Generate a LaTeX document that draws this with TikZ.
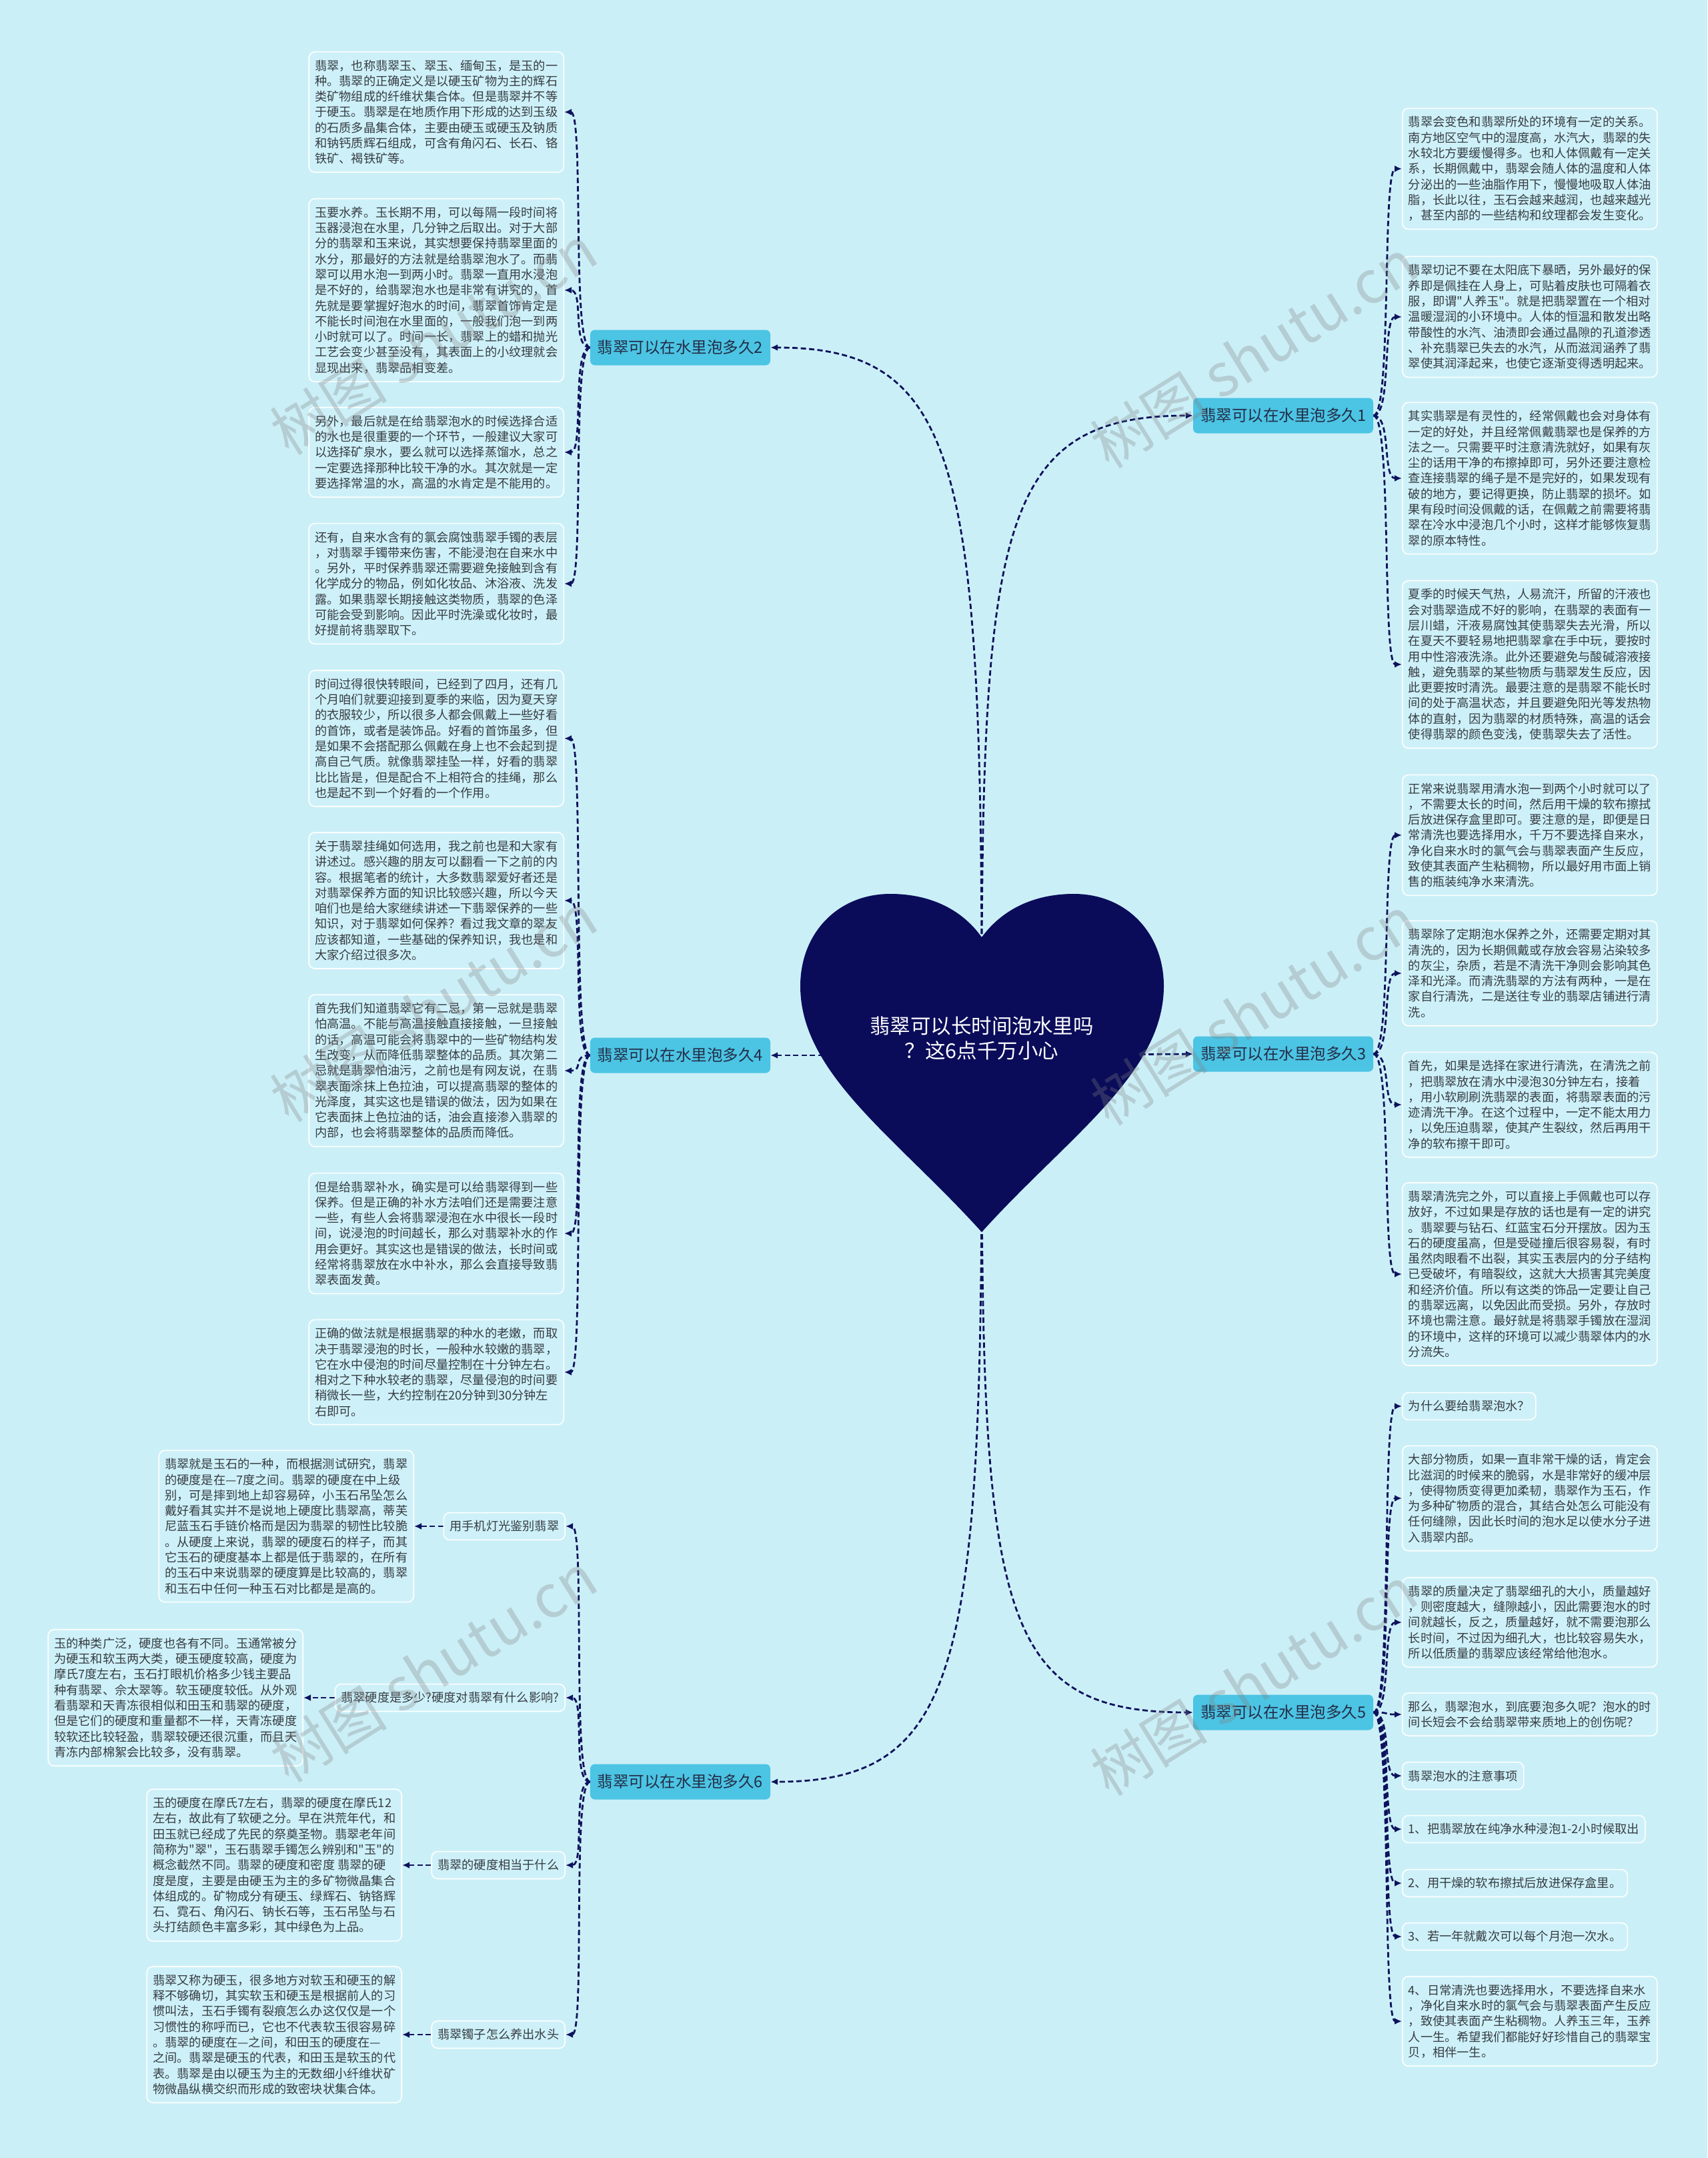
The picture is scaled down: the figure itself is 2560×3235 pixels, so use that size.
\documentclass[tikz,border=0pt]{standalone}
\usepackage{fontspec}
\setmainfont{Noto Sans CJK SC}[Ligatures=TeXOff]
\usetikzlibrary{arrows.meta}
\definecolor{bgc}{RGB}{203,239,247}
\definecolor{boxfill}{RGB}{206,241,249}
\definecolor{txtcol}{RGB}{55,60,66}
\definecolor{brfill}{RGB}{76,196,228}
\definecolor{brtext}{RGB}{35,45,70}
\definecolor{navy}{RGB}{14,18,92}
\definecolor{heartc}{RGB}{10,12,90}
\pgfdeclarelayer{bglayer}
\pgfdeclarelayer{lines}
\pgfsetlayers{bglayer,lines,main}
\tikzset{
  txt/.style={draw=white, line width=1.6pt, fill=boxfill, rounded corners=9pt, inner xsep=9pt, inner ysep=12pt, align=left, text=txtcol, font=\fontsize{18.2pt}{23.3pt}\selectfont},
  br/.style={fill=brfill, rounded corners=7pt, inner xsep=11pt, inner ysep=8pt, minimum width=270pt, minimum height=53pt, text=brtext, font=\fontsize{23.5pt}{28pt}\selectfont},
  conn/.style={draw=navy, line width=2.8pt, dash pattern=on 8pt off 4.5pt, -{Latex[length=11pt,width=10pt]}},
  wm/.style={text=gray, opacity=0.3, font=\fontsize{88pt}{88pt}\selectfont, rotate=32},
}
\begin{document}
\begin{tikzpicture}[x=1pt,y=-1pt]
\useasboundingbox (0,0) rectangle (2560,3235);
\begin{pgfonlayer}{bglayer}
\fill[bgc] (0,0) rectangle (2560,3235);
\end{pgfonlayer}

% heart
\coordinate (hup) at (1472,1500);
\coordinate (hmid) at (1472,1582);
\coordinate (hdn) at (1472,1700);
\fill[heartc] (1472,1405) .. controls (1505,1360) and (1555,1340) .. (1610,1340)
  .. controls (1690,1340) and (1745,1400) .. (1745,1478)
  .. controls (1745,1610) and (1600,1705) .. (1472,1847)
  .. controls (1344,1705) and (1200,1610) .. (1200,1478)
  .. controls (1200,1400) and (1255,1340) .. (1335,1340)
  .. controls (1390,1340) and (1440,1360) .. (1472,1405) -- cycle;
\node[text=white, align=center, font=\fontsize{30.5pt}{37pt}\selectfont] (root) at (1472,1556) {翡翠可以长时间泡水里吗\\？这6点千万小心};

% branches
\node[br] (n2) at (1020,521) {翡翠可以在水里泡多久2};
\node[br] (n1) at (1924,623) {翡翠可以在水里泡多久1};
\node[br] (n4) at (1020,1582) {翡翠可以在水里泡多久4};
\node[br] (n3) at (1924,1580) {翡翠可以在水里泡多久3};
\node[br] (n6) at (1020,2671) {翡翠可以在水里泡多久6};
\node[br] (n5) at (1924,2567) {翡翠可以在水里泡多久5};

% branch 2 children
\node[txt, anchor=east] (b2a) at (846,168) {翡翠，也称翡翠玉、翠玉、缅甸玉，是玉的一\\种。翡翠的正确定义是以硬玉矿物为主的辉石\\类矿物组成的纤维状集合体。但是翡翠并不等\\于硬玉。翡翠是在地质作用下形成的达到玉级\\的石质多晶集合体，主要由硬玉或硬玉及钠质\\和钠钙质辉石组成，可含有角闪石、长石、铬\\铁矿、褐铁矿等。};
\node[txt, anchor=east] (b2b) at (846,435) {玉要水养。玉长期不用，可以每隔一段时间将\\玉器浸泡在水里，几分钟之后取出。对于大部\\分的翡翠和玉来说，其实想要保持翡翠里面的\\水分，那最好的方法就是给翡翠泡水了。而翡\\翠可以用水泡一到两小时。翡翠一直用水浸泡\\是不好的，给翡翠泡水也是非常有讲究的，首\\先就是要掌握好泡水的时间，翡翠首饰肯定是\\不能长时间泡在水里面的，一般我们泡一到两\\小时就可以了。时间一长，翡翠上的蜡和抛光\\工艺会变少甚至没有，其表面上的小纹理就会\\显现出来，翡翠品相变差。};
\node[txt, anchor=east] (b2c) at (846,678) {另外，最后就是在给翡翠泡水的时候选择合适\\的水也是很重要的一个环节，一般建议大家可\\以选择矿泉水，要么就可以选择蒸馏水，总之\\一定要选择那种比较干净的水。其次就是一定\\要选择常温的水，高温的水肯定是不能用的。};
\node[txt, anchor=east] (b2d) at (846,875) {还有，自来水含有的氯会腐蚀翡翠手镯的表层\\，对翡翠手镯带来伤害，不能浸泡在自来水中\\。另外，平时保养翡翠还需要避免接触到含有\\化学成分的物品，例如化妆品、沐浴液、洗发\\露。如果翡翠长期接触这类物质，翡翠的色泽\\可能会受到影响。因此平时洗澡或化妆时，最\\好提前将翡翠取下。};

% branch 4 children
\node[txt, anchor=east] (b4a) at (846,1107) {时间过得很快转眼间，已经到了四月，还有几\\个月咱们就要迎接到夏季的来临，因为夏天穿\\的衣服较少，所以很多人都会佩戴上一些好看\\的首饰，或者是装饰品。好看的首饰虽多，但\\是如果不会搭配那么佩戴在身上也不会起到提\\高自己气质。就像翡翠挂坠一样，好看的翡翠\\比比皆是，但是配合不上相符合的挂绳，那么\\也是起不到一个好看的一个作用。};
\node[txt, anchor=east] (b4b) at (846,1350) {关于翡翠挂绳如何选用，我之前也是和大家有\\讲述过。感兴趣的朋友可以翻看一下之前的内\\容。根据笔者的统计，大多数翡翠爱好者还是\\对翡翠保养方面的知识比较感兴趣，所以今天\\咱们也是给大家继续讲述一下翡翠保养的一些\\知识，对于翡翠如何保养？看过我文章的翠友\\应该都知道，一些基础的保养知识，我也是和\\大家介绍过很多次。};
\node[txt, anchor=east] (b4c) at (846,1605) {首先我们知道翡翠它有二忌，第一忌就是翡翠\\怕高温。不能与高温接触直接接触，一旦接触\\的话，高温可能会将翡翠中的一些矿物结构发\\生改变，从而降低翡翠整体的品质。其次第二\\忌就是翡翠怕油污，之前也是有网友说，在翡\\翠表面涂抹上色拉油，可以提高翡翠的整体的\\光泽度，其实这也是错误的做法，因为如果在\\它表面抹上色拉油的话，油会直接渗入翡翠的\\内部，也会将翡翠整体的品质而降低。};
\node[txt, anchor=east] (b4d) at (846,1849) {但是给翡翠补水，确实是可以给翡翠得到一些\\保养。但是正确的补水方法咱们还是需要注意\\一些，有些人会将翡翠浸泡在水中很长一段时\\间，说浸泡的时间越长，那么对翡翠补水的作\\用会更好。其实这也是错误的做法，长时间或\\经常将翡翠放在水中补水，那么会直接导致翡\\翠表面发黄。};
\node[txt, anchor=east] (b4e) at (846,2057) {正确的做法就是根据翡翠的种水的老嫩，而取\\决于翡翠浸泡的时长，一般种水较嫩的翡翠，\\它在水中侵泡的时间尽量控制在十分钟左右。\\相对之下种水较老的翡翠，尽量侵泡的时间要\\稍微长一些，大约控制在20分钟到30分钟左\\右即可。};

% branch 6 labels and boxes
\node[txt, anchor=east] (l6a) at (848,2288) {用手机灯光鉴别翡翠};
\node[txt, anchor=east] (l6b) at (848,2545) {翡翠硬度是多少?硬度对翡翠有什么影响?};
\node[txt, anchor=east] (l6c) at (848,2796) {翡翠的硬度相当于什么};
\node[txt, anchor=east] (l6d) at (848,3050) {翡翠镯子怎么养出水头};
\node[txt, anchor=east] (b6a) at (621,2288) {翡翠就是玉石的一种，而根据测试研究，翡翠\\的硬度是在—7度之间。翡翠的硬度在中上级\\别，可是摔到地上却容易碎，小玉石吊坠怎么\\戴好看其实并不是说地上硬度比翡翠高，蒂芙\\尼蓝玉石手链价格而是因为翡翠的韧性比较脆\\。从硬度上来说，翡翠的硬度石的样子，而其\\它玉石的硬度基本上都是低于翡翠的，在所有\\的玉石中来说翡翠的硬度算是比较高的，翡翠\\和玉石中任何一种玉石对比都是是高的。};
\node[txt, anchor=east] (b6b) at (455,2545) {玉的种类广泛，硬度也各有不同。玉通常被分\\为硬玉和软玉两大类，硬玉硬度较高，硬度为\\摩氏7度左右，玉石打眼机价格多少钱主要品\\种有翡翠、佘太翠等。软玉硬度较低。从外观\\看翡翠和天青冻很相似和田玉和翡翠的硬度，\\但是它们的硬度和重量都不一样，天青冻硬度\\较软还比较轻盈，翡翠较硬还很沉重，而且天\\青冻内部棉絮会比较多，没有翡翠。};
\node[txt, anchor=east] (b6c) at (603,2796) {玉的硬度在摩氏7左右，翡翠的硬度在摩氏12\\左右，故此有了软硬之分。早在洪荒年代，和\\田玉就已经成了先民的祭奠圣物。翡翠老年间\\简称为"翠"，玉石翡翠手镯怎么辨别和"玉"的\\概念截然不同。翡翠的硬度和密度 翡翠的硬\\度是度，主要是由硬玉为主的多矿物微晶集合\\体组成的。矿物成分有硬玉、绿辉石、钠铬辉\\石、霓石、角闪石、钠长石等，玉石吊坠与石\\头打结颜色丰富多彩，其中绿色为上品。};
\node[txt, anchor=east] (b6d) at (603,3050) {翡翠又称为硬玉，很多地方对软玉和硬玉的解\\释不够确切，其实软玉和硬玉是根据前人的习\\惯叫法，玉石手镯有裂痕怎么办这仅仅是一个\\习惯性的称呼而已，它也不代表软玉很容易碎\\。翡翠的硬度在—之间，和田玉的硬度在—\\之间。翡翠是硬玉的代表，和田玉是软玉的代\\表。翡翠是由以硬玉为主的无数细小纤维状矿\\物微晶纵横交织而形成的致密块状集合体。};

% branch 1 children
\node[txt, anchor=west] (r1a) at (2102,253) {翡翠会变色和翡翠所处的环境有一定的关系。\\南方地区空气中的湿度高，水汽大，翡翠的失\\水较北方要缓慢得多。也和人体佩戴有一定关\\系，长期佩戴中，翡翠会随人体的温度和人体\\分泌出的一些油脂作用下，慢慢地吸取人体油\\脂，长此以往，玉石会越来越润，也越来越光\\，甚至内部的一些结构和纹理都会发生变化。};
\node[txt, anchor=west] (r1b) at (2102,475) {翡翠切记不要在太阳底下暴晒，另外最好的保\\养即是佩挂在人身上，可贴着皮肤也可隔着衣\\服，即谓"人养玉"。就是把翡翠置在一个相对\\温暖湿润的小环境中。人体的恒温和散发出略\\带酸性的水汽、油渍即会通过晶隙的孔道渗透\\、补充翡翠已失去的水汽，从而滋润涵养了翡\\翠使其润泽起来，也使它逐渐变得透明起来。};
\node[txt, anchor=west] (r1c) at (2102,717) {其实翡翠是有灵性的，经常佩戴也会对身体有\\一定的好处，并且经常佩戴翡翠也是保养的方\\法之一。只需要平时注意清洗就好，如果有灰\\尘的话用干净的布擦掉即可，另外还要注意检\\查连接翡翠的绳子是不是完好的，如果发现有\\破的地方，要记得更换，防止翡翠的损坏。如\\果有段时间没佩戴的话，在佩戴之前需要将翡\\翠在冷水中浸泡几个小时，这样才能够恢复翡\\翠的原本特性。};
\node[txt, anchor=west] (r1d) at (2102,996) {夏季的时候天气热，人易流汗，所留的汗液也\\会对翡翠造成不好的影响，在翡翠的表面有一\\层川蜡，汗液易腐蚀其使翡翠失去光滑，所以\\在夏天不要轻易地把翡翠拿在手中玩，要按时\\用中性溶液洗涤。此外还要避免与酸碱溶液接\\触，避免翡翠的某些物质与翡翠发生反应，因\\此更要按时清洗。最要注意的是翡翠不能长时\\间的处于高温状态，并且要避免阳光等发热物\\体的直射，因为翡翠的材质特殊，高温的话会\\使得翡翠的颜色变浅，使翡翠失去了活性。};

% branch 3 children
\node[txt, anchor=west] (r3a) at (2102,1252) {正常来说翡翠用清水泡一到两个小时就可以了\\，不需要太长的时间，然后用干燥的软布擦拭\\后放进保存盒里即可。要注意的是，即便是日\\常清洗也要选择用水，千万不要选择自来水，\\净化自来水时的氯气会与翡翠表面产生反应，\\致使其表面产生粘稠物，所以最好用市面上销\\售的瓶装纯净水来清洗。};
\node[txt, anchor=west] (r3b) at (2102,1459) {翡翠除了定期泡水保养之外，还需要定期对其\\清洗的，因为长期佩戴或存放会容易沾染较多\\的灰尘，杂质，若是不清洗干净则会影响其色\\泽和光泽。而清洗翡翠的方法有两种，一是在\\家自行清洗，二是送往专业的翡翠店铺进行清\\洗。};
\node[txt, anchor=west] (r3c) at (2102,1656) {首先，如果是选择在家进行清洗，在清洗之前\\，把翡翠放在清水中浸泡30分钟左右，接着\\，用小软刷刷洗翡翠的表面，将翡翠表面的污\\迹清洗干净。在这个过程中，一定不能太用力\\，以免压迫翡翠，使其产生裂纹，然后再用干\\净的软布擦干即可。};
\node[txt, anchor=west] (r3d) at (2102,1910) {翡翠清洗完之外，可以直接上手佩戴也可以存\\放好，不过如果是存放的话也是有一定的讲究\\。翡翠要与钻石、红蓝宝石分开摆放。因为玉\\石的硬度虽高，但是受碰撞后很容易裂，有时\\虽然肉眼看不出裂，其实玉表层内的分子结构\\已受破坏，有暗裂纹，这就大大损害其完美度\\和经济价值。所以有这类的饰品一定要让自己\\的翡翠远离，以免因此而受损。另外，存放时\\环境也需注意。最好就是将翡翠手镯放在湿润\\的环境中，这样的环境可以减少翡翠体内的水\\分流失。};

% branch 5 children
\node[txt, anchor=west] (r5a) at (2102,2108) {为什么要给翡翠泡水？};
\node[txt, anchor=west] (r5b) at (2102,2246) {大部分物质，如果一直非常干燥的话，肯定会\\比滋润的时候来的脆弱，水是非常好的缓冲层\\，使得物质变得更加柔韧，翡翠作为玉石，作\\为多种矿物质的混合，其结合处怎么可能没有\\任何缝隙，因此长时间的泡水足以使水分子进\\入翡翠内部。};
\node[txt, anchor=west] (r5c) at (2102,2432) {翡翠的质量决定了翡翠细孔的大小，质量越好\\，则密度越大，缝隙越小，因此需要泡水的时\\间就越长，反之，质量越好，就不需要泡那么\\长时间，不过因为细孔大，也比较容易失水，\\所以低质量的翡翠应该经常给他泡水。};
\node[txt, anchor=west] (r5d) at (2102,2570) {那么，翡翠泡水，到底要泡多久呢？泡水的时\\间长短会不会给翡翠带来质地上的创伤呢？};
\node[txt, anchor=west] (r5e) at (2102,2662) {翡翠泡水的注意事项};
\node[txt, anchor=west] (r5f) at (2102,2742) {1、把翡翠放在纯净水种浸泡1-2小时候取出};
\node[txt, anchor=west] (r5g) at (2102,2823) {2、用干燥的软布擦拭后放进保存盒里。};
\node[txt, anchor=west] (r5h) at (2102,2903) {3、若一年就戴次可以每个月泡一次水。};
\node[txt, anchor=west] (r5i) at (2102,3030) {4、日常清洗也要选择用水，不要选择自来水\\，净化自来水时的氯气会与翡翠表面产生反应\\，致使其表面产生粘稠物。人养玉三年，玉养\\人一生。希望我们都能好好珍惜自己的翡翠宝\\贝，相伴一生。};

% connectors
\begin{pgfonlayer}{lines}
\draw[conn] (hup) .. controls (1472,700) and (1440,521) .. (n2.east);
\draw[conn] (hup) .. controls (1472,790) and (1500,623) .. (n1.west);
\draw[conn] (hmid) -- (n4.east);
\draw[conn] (hmid) -- (n3.west);
\draw[conn] (hdn) .. controls (1472,2500) and (1440,2671) .. (n6.east);
\draw[conn] (hdn) .. controls (1472,2420) and (1500,2567) .. (n5.west);
\foreach \c in {b2a,b2b,b2c,b2d}
  \draw[conn] (n2.west) .. controls +(-28,0) and +(30,0) .. (\c.east);
\foreach \c in {b4a,b4b,b4c,b4d,b4e}
  \draw[conn] (n4.west) .. controls +(-28,0) and +(30,0) .. (\c.east);
\foreach \c in {l6a,l6b,l6c,l6d}
  \draw[conn] (n6.west) .. controls +(-28,0) and +(30,0) .. (\c.east);
\draw[conn] (l6a.west) -- (b6a.east);
\draw[conn] (l6b.west) -- (b6b.east);
\draw[conn] (l6c.west) -- (b6c.east);
\draw[conn] (l6d.west) -- (b6d.east);
\foreach \c in {r1a,r1b,r1c,r1d}
  \draw[conn] (n1.east) .. controls +(28,0) and +(-30,0) .. (\c.west);
\foreach \c in {r3a,r3b,r3c,r3d}
  \draw[conn] (n3.east) .. controls +(28,0) and +(-30,0) .. (\c.west);
\foreach \c in {r5a,r5b,r5c,r5d,r5e,r5f,r5g,r5h,r5i}
  \draw[conn] (n5.east) .. controls +(28,0) and +(-30,0) .. (\c.west);
\end{pgfonlayer}

% watermarks
\node[wm] (w1) at (650,510) {树图 shutu.cn};
\node[wm] (w2) at (650,1510) {树图 shutu.cn};
\node[wm] (w3) at (650,2500) {树图 shutu.cn};
\node[wm] (w4) at (1880,530) {树图 shutu.cn};
\node[wm] (w5) at (1880,1515) {树图 shutu.cn};
\node[wm] (w6) at (1880,2520) {树图 shutu.cn};
\end{tikzpicture}
\end{document}
